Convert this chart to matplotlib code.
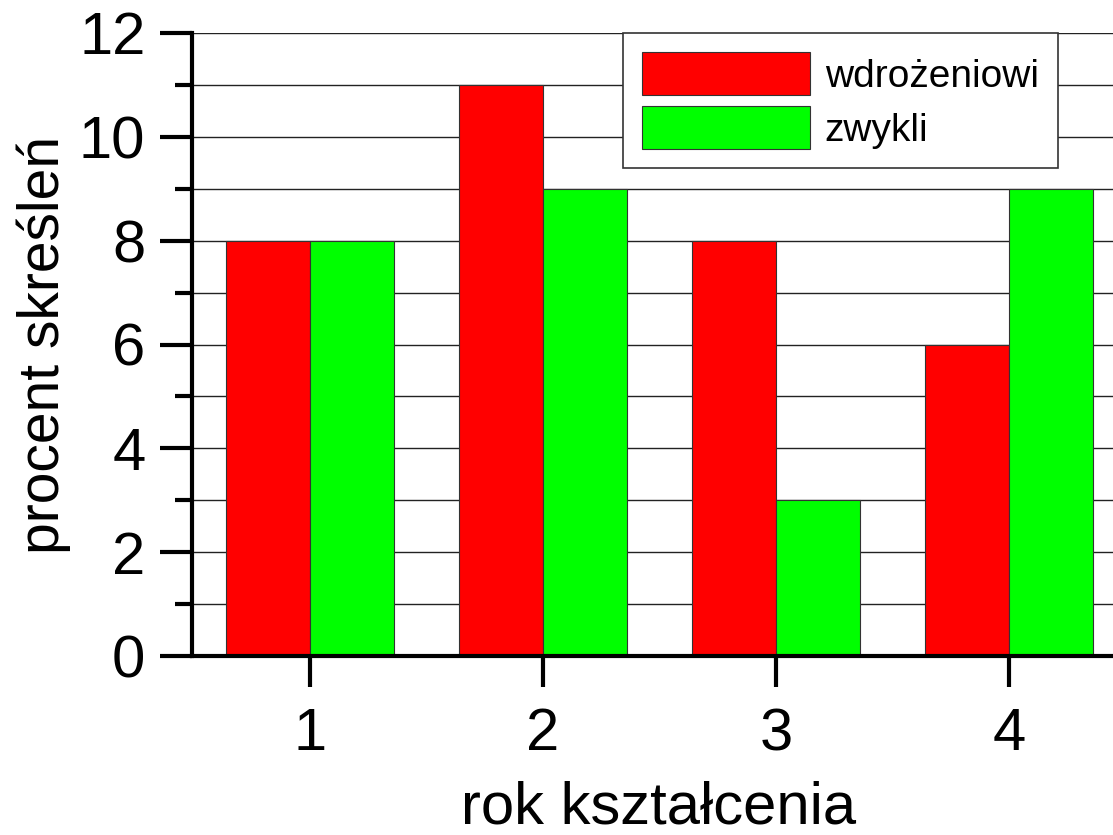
import numpy as np
import matplotlib
matplotlib.use("Agg")
import matplotlib.pyplot as plt
from matplotlib.ticker import MultipleLocator

plt.rcParams['font.family'] = ['Liberation Sans', 'DejaVu Sans']

lata = [1, 2, 3, 4]
wdrozeniowi = [8, 11, 8, 6]
zwykli = [8, 9, 3, 9]

fig = plt.figure(figsize=(11.13, 8.35), dpi=100)
ax = fig.add_axes([192/1113, 1 - 656/835, (1125.5 - 192)/1113, (656 - 33)/835])

x = np.array(lata)
w = 0.36
ax.bar(x - w/2, wdrozeniowi, width=w, color="#ff0000", edgecolor="#333333", linewidth=0.8,
       label="wdrożeniowi", zorder=3)
ax.bar(x + w/2, zwykli, width=w, color="#00ff00", edgecolor="#333333", linewidth=0.8,
       label="zwykli", zorder=3)

ax.set_xlim(0.494, 4.5)
ax.set_ylim(0, 12)
ax.set_xticks(lata)
ax.yaxis.set_major_locator(MultipleLocator(2))
ax.yaxis.set_minor_locator(MultipleLocator(1))

for yv in range(1, 13):
    ax.axhline(yv, color="#222222", linewidth=1.0, zorder=1)

for s in ["top", "right"]:
    ax.spines[s].set_visible(False)
for s in ["left", "bottom"]:
    ax.spines[s].set_linewidth(3)
    ax.spines[s].set_zorder(4)

ax.tick_params(axis="y", which="major", length=23, width=3, labelsize=43, pad=10.5)
ax.tick_params(axis="y", which="minor", length=12, width=3)
ax.tick_params(axis="x", which="major", length=22, width=3, labelsize=43, pad=15)

ax.set_xlabel("rok kształcenia", fontsize=43, labelpad=13)
ax.set_ylabel("procent skreśleń", fontsize=41, labelpad=6)

leg = ax.legend(loc="upper left", bbox_to_anchor=(623/1113, 1 - 33/835), bbox_transform=fig.transFigure,
                fontsize=28, frameon=True, fancybox=False, framealpha=1,
                handlelength=4.3, handleheight=1.3, handletextpad=0.39, labelspacing=0.3,
                borderpad=0.5, borderaxespad=0)
leg.get_frame().set_edgecolor("#333333")
leg.get_frame().set_linewidth(1.2)
leg.set_zorder(5)

fig.savefig("out.png", dpi=100)
